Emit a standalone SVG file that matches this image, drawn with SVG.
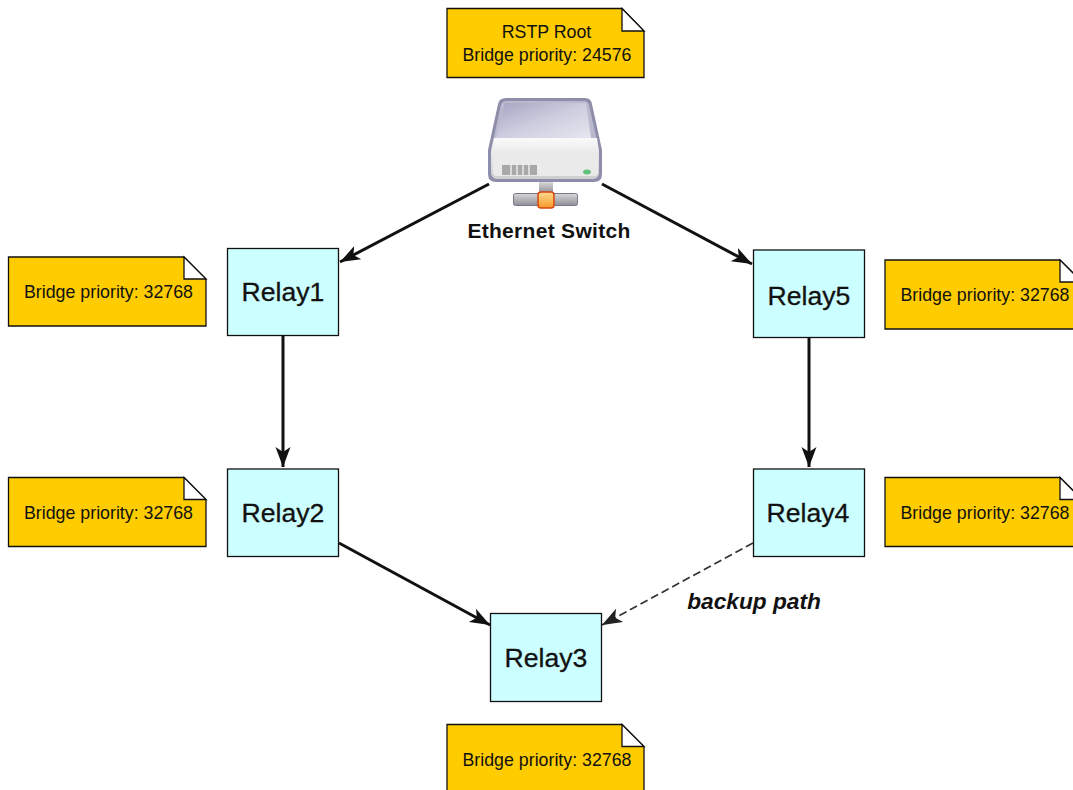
<svg xmlns="http://www.w3.org/2000/svg" width="1073" height="790" viewBox="0 0 1073 790">
<style>
text{font-family:"Liberation Sans",Arial,sans-serif;fill:#111;text-anchor:middle}
.relay rect{fill:#ccffff;stroke:#111;stroke-width:1.3}
.relay text{font-size:26.600px;stroke:#111;stroke-width:.3px}
.note path{fill:#ffcc00;stroke:#111;stroke-width:1.3}
.note .fold{fill:#fff}
.note text{font-size:17.800px}
.c{fill:none;stroke:#111;stroke-width:3}
.d{fill:none;stroke:#333;stroke-width:1.700;stroke-dasharray:8 4}
</style>
<defs>
<marker id="a" markerUnits="userSpaceOnUse" markerWidth="24" markerHeight="20" refX="20" refY="10" orient="auto"><path d="M0 2.500L20 10L0 17.500L5 10Z" fill="#111"/></marker>
<marker id="b" markerUnits="userSpaceOnUse" markerWidth="24" markerHeight="20" refX="20" refY="10" orient="auto"><path d="M0 2.500L20 10L0 17.500L5 10Z" fill="#222"/></marker>
<linearGradient id="top" x1="0" y1="0" x2="1" y2="1"><stop offset="0" stop-color="#a4a4c2"/><stop offset=".5" stop-color="#cdcddf"/><stop offset="1" stop-color="#e6e6ef"/></linearGradient>
<linearGradient id="band" x1="0" y1="0" x2="0" y2="1"><stop offset="0" stop-color="#fafafa"/><stop offset="1" stop-color="#cdcdcd"/></linearGradient>
<linearGradient id="pipe" x1="0" y1="0" x2="0" y2="1"><stop offset="0" stop-color="#d8d8d8"/><stop offset="1" stop-color="#8f8f98"/></linearGradient>
<linearGradient id="org" x1="0" y1="0" x2="0" y2="1"><stop offset="0" stop-color="#ffd890"/><stop offset="1" stop-color="#f59a2a"/></linearGradient>
</defs>
<g id="connectors">
<path class="c" d="M489 184L340 262" marker-end="url(#a)"/>
<path class="c" d="M602 184L752 264" marker-end="url(#a)"/>
<path class="c" d="M283 336V467" marker-end="url(#a)"/>
<path class="c" d="M809 338V467" marker-end="url(#a)"/>
<path class="c" d="M339 543L490 625" marker-end="url(#a)"/>
<path class="d" d="M753 543L602 625" marker-end="url(#b)"/>
</g>
<g id="note-root" class="note"><path d="M447 8.500H622L644 31V77.500H447Z"/><path class="fold" d="M622 8.500L644 31H622Z"/><text x="546.500" y="38">RSTP Root</text><text x="547" y="61">Bridge priority: 24576</text></g>
<g id="note-relay1" class="note"><path d="M8.500 257H184L206 279V326H8.500Z"/><path class="fold" d="M184 257L206 279H184Z"/><text x="108.500" y="298">Bridge priority: 32768</text></g>
<g id="note-relay2" class="note"><path d="M8.500 477.500H184L206 499.500V546.500H8.500Z"/><path class="fold" d="M184 477.500L206 499.500H184Z"/><text x="108.500" y="519">Bridge priority: 32768</text></g>
<g id="note-relay5" class="note"><path d="M885 260H1060L1082 282V329H885Z"/><path class="fold" d="M1060 260L1082 282H1060Z"/><text x="985" y="301">Bridge priority: 32768</text></g>
<g id="note-relay4" class="note"><path d="M885 477.500H1060L1082 499.500V546.500H885Z"/><path class="fold" d="M1060 477.500L1082 499.500H1060Z"/><text x="985" y="519">Bridge priority: 32768</text></g>
<g id="note-relay3" class="note"><path d="M447 724.500H622L644 746.500V793H447Z"/><path class="fold" d="M622 724.500L644 746.500H622Z"/><text x="547" y="766">Bridge priority: 32768</text></g>
<g id="relay1" class="relay"><rect x="227.500" y="248.500" width="111" height="87"/><text x="283" y="301">Relay1</text></g>
<g id="relay2" class="relay"><rect x="227.500" y="469" width="111" height="87.500"/><text x="283" y="522">Relay2</text></g>
<g id="relay3" class="relay"><rect x="490.500" y="613.500" width="111" height="88"/><text x="546" y="667">Relay3</text></g>
<g id="relay4" class="relay"><rect x="753.500" y="469" width="111" height="87.500"/><text x="808" y="522">Relay4</text></g>
<g id="relay5" class="relay"><rect x="753.500" y="250" width="111" height="87.500"/><text x="809" y="305">Relay5</text></g>
<g id="switch">
<path d="M488 150L498 104Q499 98 506 98H585Q591 98 592 104L602 150V174Q602 182 594 182H496Q488 182 488 174Z" fill="#8e8eab"/>
<path d="M491 150L501 105Q502 101 507 101H584Q588 101 589 105L599 150V172Q599 179 592 179H498Q491 179 491 172Z" fill="#b9b9cf"/>
<path d="M496 138L505 103H586L591 138Z" fill="url(#top)"/>
<path d="M491 152L494 138H597L599 152V172Q599 179 592 179H498Q491 179 491 172Z" fill="url(#band)"/>
<rect x="493" y="155" width="105" height="21" rx="4" fill="#eaeaea"/>
<rect x="502" y="165" width="35" height="10" fill="#a8a8a8"/>
<path d="M511 165V175M517 165V175M523 165V175M529 165V175" stroke="#e9e9e9" stroke-width="1.500"/>
<ellipse cx="587" cy="172" rx="4" ry="2.500" fill="#5fc47a"/>
<rect x="539" y="182" width="14" height="11" fill="url(#pipe)"/>
<rect x="513.500" y="193.500" width="64" height="12" rx="2" fill="url(#pipe)" stroke="#77778a"/>
<rect x="538" y="192" width="16" height="16" rx="3" fill="url(#org)" stroke="#d8460f" stroke-width="1.500"/>
<text x="549" y="238" font-size="21" font-weight="700" style="letter-spacing:.3px">Ethernet Switch</text>
</g>
<text x="754" y="609" font-size="22.700" font-weight="700" font-style="italic">backup path</text>
</svg>
